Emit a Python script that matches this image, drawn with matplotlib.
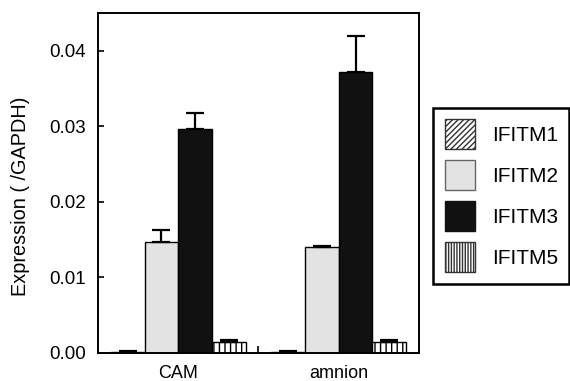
import numpy as np
import matplotlib
matplotlib.use("Agg")
import matplotlib.pyplot as plt
from matplotlib.patches import Patch

plt.rcParams['font.family'] = ['Liberation Sans', 'DejaVu Sans']
plt.rcParams['hatch.linewidth'] = 1.0

groups = ["CAM", "amnion"]
genes = ["IFITM1", "IFITM2", "IFITM3", "IFITM5"]
ifitm1 = [0.0001, 0.0001]
ifitm2 = [0.0147, 0.0140]
ifitm3 = [0.0297, 0.0372]
ifitm5 = [0.0015, 0.0014]
err1 = [0.0001, 0.0001]
err2 = [0.0016, 0.0002]
err3 = [0.0021, 0.0048]
err5 = [0.0002, 0.0003]
yticks = [0.00, 0.01, 0.02, 0.03, 0.04]

means = [ifitm1, ifitm2, ifitm3, ifitm5]
errs = [err1, err2, err3, err5]
fills = ["white", "#e3e3e3", "#111111", "white"]
hatches = ["//////", None, None, "|||"]
leg_hatches = ["//////", None, None, "||||||"]
leg_edges = ["#333333", "#666666", "#111111", "#333333"]

fig = plt.figure(figsize=(5.7, 3.81), dpi=100)
ax = fig.add_axes([0.172, 0.0735, 0.563, 0.8925])

x = np.arange(len(groups))
w = 0.21
offs = [-1.5 * w, -0.5 * w, 0.5 * w, 1.5 * w]
for i in range(len(genes)):
    ax.bar(x + offs[i], means[i], w, color=fills[i], edgecolor="black",
           hatch=hatches[i], linewidth=1.0, zorder=2)
    ax.errorbar(x + offs[i], means[i], yerr=[np.zeros(len(groups)), errs[i]],
                fmt="none", ecolor="black", elinewidth=1.6, capsize=6.5,
                capthick=1.6, zorder=3)

ax.set_xlim(-0.5, 1.5)
ax.set_ylim(0, 0.045)
ax.set_yticks(yticks)
ax.set_yticklabels(["%.2f" % v for v in yticks], fontsize=13.5)
ax.set_xticks(x)
ax.set_xticklabels(groups, fontsize=13)
ax.set_xticks([0.5], minor=True)
ax.tick_params(axis="x", which="major", length=0, pad=9)
ax.tick_params(axis="x", which="minor", direction="in", length=5, width=1.2)
ax.tick_params(axis="y", direction="in", length=4, width=1.2, pad=9)
for s in ax.spines.values():
    s.set_linewidth(1.4)
ax.set_ylabel("Expression ( /GAPDH)", fontsize=14.3)
ax.yaxis.set_label_coords(-0.212, 0.462)

handles = [Patch(facecolor=fills[i], edgecolor=leg_edges[i], hatch=leg_hatches[i],
                 linewidth=1.0) for i in range(len(genes))]
leg = fig.legend(handles, genes, loc="upper left", bbox_to_anchor=(0.76, 0.7165),
                 bbox_transform=fig.transFigure, borderaxespad=0, fontsize=15,
                 handlelength=1.44, handleheight=1.84, labelspacing=0.52,
                 handletextpad=0.82, borderpad=0.55, fancybox=False, framealpha=1)
leg.get_frame().set_edgecolor("black")
leg.get_frame().set_linewidth(1.8)

fig.savefig("out.png", dpi=100)
